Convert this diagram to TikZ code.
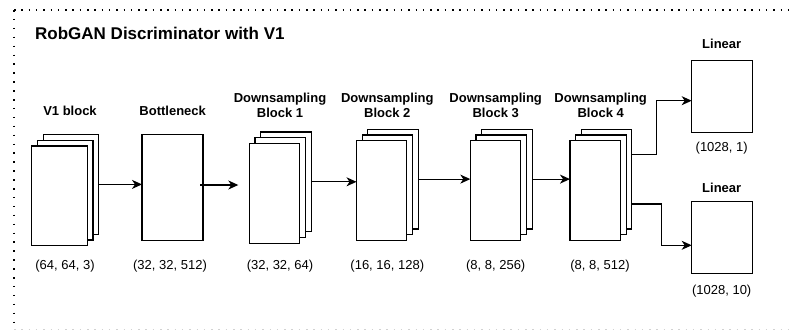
\documentclass[tikz,border=0pt]{standalone}
\usepackage{fontspec}
\setmainfont{Liberation Sans}
\usetikzlibrary{arrows.meta, positioning}

\begin{document}
\begin{tikzpicture} [
    x = 1pt, y = -1pt,
    on grid,
    layer/.style = {draw, fill=white, line width=1.1pt,
        inner sep=0pt, outer sep=0pt,
        minimum width=50.4pt, minimum height=99.7pt},
    head/.style = {font=\fontsize{13}{15.4}\selectfont\bfseries,
        align=center, anchor=base, inner sep=0pt},
    dims/.style = {font=\fontsize{13}{15.4}\selectfont,
        anchor=base, inner sep=0pt},
    link/.style = {-{Stealth[length=10pt, width=9pt, inset=3pt]},
        line width=1.1pt},
    frame/.style = {line width=1.5pt, dash pattern=on 1.5pt off 5.8pt}]

\useasboundingbox (0,0) rectangle (795,330);

% Frame
\draw [frame] (14,10) -- (800,10);
\draw [frame, dash pattern=on 1.5pt off 7.4pt] (14,10) -- (14,330);
\draw [frame, gray!35] (14,329.5) -- (800,329.5);

\node (title) [anchor=base west, inner sep=0pt,
    font=\fontsize{17}{20}\selectfont\bfseries] at (35,39.4)
    {RobGAN Discriminator with V1};

% V1 block
\node (v1back) [layer, minimum width=55.5pt] at (70.9,184.4) {};
\node (v1mid) [layer, minimum width=55.5pt,
    below left = 5.7pt and 5.7pt of v1back] {};
\node (v1front) [layer, minimum width=55.5pt,
    below left = 5.7pt and 5.7pt of v1mid] {};

% Bottleneck
\node (bneck) [layer, minimum width=61pt, minimum height=105.7pt]
    at (172.5,187.2) {};

% Downsampling blocks
\node (ds1back) [layer] at (285.9,181.8) {};
\node (ds1mid) [layer, below left = 5.7pt and 5.7pt of ds1back] {};
\node (ds1front) [layer, below left = 5.7pt and 5.7pt of ds1mid] {};

\node (ds2back) [layer] at (393.1,179.1) {};
\node (ds2mid) [layer, below left = 5.7pt and 5.7pt of ds2back] {};
\node (ds2front) [layer, below left = 5.7pt and 5.7pt of ds2mid] {};

\node (ds3back) [layer] at (506.9,179.1) {};
\node (ds3mid) [layer, below left = 5.7pt and 5.7pt of ds3back] {};
\node (ds3front) [layer, below left = 5.7pt and 5.7pt of ds3mid] {};

\node (ds4back) [layer] at (606.6,179.1) {};
\node (ds4mid) [layer, below left = 5.7pt and 5.7pt of ds4back] {};
\node (ds4front) [layer, below left = 5.7pt and 5.7pt of ds4mid] {};

% Linear heads
\node (lin1) [layer, minimum width=60.6pt, minimum height=71.7pt]
    at (722,96.2) {};
\node (lin2) [layer, minimum width=60.6pt, minimum height=71.7pt]
    at (722,237.7) {};

% Labels
\node (v1head) [head] at (70,115.5) {V1 block};
\node (bnhead) [head] at (172.7,115.5) {Bottleneck};
\node (ds1head) [head] at (280,117.4) {Downsampling\\Block 1};
\node (ds2head) [head] at (387.3,117.4) {Downsampling\\Block 2};
\node (ds3head) [head] at (495.7,117.4) {Downsampling\\Block 3};
\node (ds4head) [head] at (600.7,117.4) {Downsampling\\Block 4};
\node (lin1head) [head] at (721.7,48) {Linear};
\node (lin2head) [head] at (721.7,192.3) {Linear};

\node (v1dims) [dims] at (65,269) {(64, 64, 3)};
\node (bndims) [dims] at (170,269) {(32, 32, 512)};
\node (ds1dims) [dims] at (280,269) {(32, 32, 64)};
\node (ds2dims) [dims] at (387.3,269) {(16, 16, 128)};
\node (ds3dims) [dims] at (495.7,269) {(8, 8, 256)};
\node (ds4dims) [dims] at (600,269) {(8, 8, 512)};
\node (lin1dims) [dims] at (721.7,151) {(1028, 1)};
\node (lin2dims) [dims] at (721.7,294) {(1028, 10)};

% Arrows
\coordinate (ds1in) at ([xshift=-11pt, yshift=8.2pt]ds1front.west);
\draw [link] (v1back.east) -- (v1back.east -| bneck.west);
\draw [link, shorten <=-3pt] (bneck.east |- ds1in) -- (ds1in);
\draw [link] (ds1back.east) -- (ds1back.east -| ds2front.west);
\draw [link] (ds2back.east) -- (ds2back.east -| ds3front.west);
\draw [link] (ds3back.east) -- (ds3back.east -| ds4front.west);
\draw [link] ([yshift=24.8pt]ds4back.east) -- ++(24.3,0)
    |- ([yshift=-4.5pt]lin1.west);
\draw [link] ([yshift=-24.9pt]ds4back.east) -- ++(30,0)
    |- ([yshift=-7.6pt]lin2.west);
\end{tikzpicture}
\end{document}
